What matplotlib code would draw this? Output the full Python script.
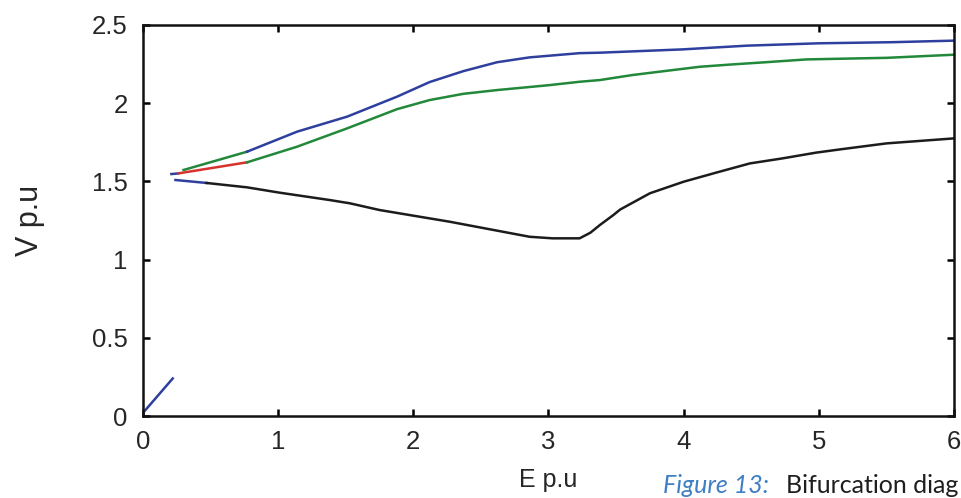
import numpy as np
import matplotlib
matplotlib.use("Agg")
import matplotlib.pyplot as plt

# upper branch (two-colour piece from the solver runs)
upper_E = [0.30, 0.77, 1.14, 1.51, 1.88, 2.12, 2.37, 2.62, 2.86, 3.23, 3.38, 3.99, 4.47, 5.00, 5.54, 6.00]
upper_V = [1.573, 1.690, 1.818, 1.914, 2.042, 2.135, 2.205, 2.262, 2.293, 2.320, 2.323, 2.344, 2.368, 2.383, 2.390, 2.400]

# middle branch
mid_E = [0.21, 0.26, 0.77, 1.14, 1.51, 1.88, 2.12, 2.37, 2.62, 3.00, 3.23, 3.38, 3.62, 3.92, 4.12, 4.36, 4.59, 4.91, 5.20, 5.50, 6.00]
mid_V = [1.547, 1.551, 1.622, 1.722, 1.839, 1.962, 2.020, 2.060, 2.084, 2.115, 2.137, 2.148, 2.180, 2.212, 2.233, 2.248, 2.261, 2.280, 2.285, 2.290, 2.310]

# lower branch
low_E = [0.24, 0.47, 0.77, 1.01, 1.38, 1.53, 1.75, 2.27, 2.86, 3.03, 3.23, 3.31, 3.38, 3.48, 3.53, 3.75, 4.00, 4.24, 4.49, 4.73, 4.98, 5.16, 5.50, 6.00]
low_V = [1.509, 1.490, 1.462, 1.428, 1.381, 1.360, 1.317, 1.242, 1.146, 1.136, 1.136, 1.172, 1.221, 1.285, 1.320, 1.424, 1.498, 1.556, 1.615, 1.647, 1.684, 1.705, 1.743, 1.775]

# short start near the origin
orig_E = [0.0, 0.22]
orig_V = [0.02, 0.24]

xticks = [0, 1, 2, 3, 4, 5, 6]
yticks = [0, 0.5, 1, 1.5, 2, 2.5]
ytick_labels = ["0", "0.5", "1", "1.5", "2", "2.5"]

blue = "#2f3f9e"
green = "#22883a"
red = "#d8322c"
black = "#1c1c1c"

plt.rcParams["font.family"] = ["Liberation Sans", "DejaVu Sans"]

fig = plt.figure(figsize=(9.62, 4.98), dpi=100)
ax = fig.add_axes([143 / 962, 82 / 498, 811 / 962, 391 / 498])

lw = 1.8
uE = np.array(upper_E); uV = np.array(upper_V)
ax.plot(uE[:2], uV[:2], color=green, lw=lw)
ax.plot(uE[1:], uV[1:], color=blue, lw=lw)

mE = np.array(mid_E); mV = np.array(mid_V)
ax.plot(mE[:2], mV[:2], color=blue, lw=lw)
ax.plot(mE[1:3], mV[1:3], color=red, lw=lw)
ax.plot(mE[2:], mV[2:], color=green, lw=lw)

lE = np.array(low_E); lV = np.array(low_V)
ax.plot(lE[:2], lV[:2], color=blue, lw=lw)
ax.plot(lE[1:], lV[1:], color=black, lw=lw)

ax.plot(orig_E, orig_V, color=blue, lw=lw)

ax.set_xlim(0, 6)
ax.set_ylim(0, 2.5)
ax.set_xticks(xticks)
ax.set_yticks(yticks)
ax.set_yticklabels(ytick_labels)

for s in ax.spines.values():
    s.set_linewidth(1.8)
    s.set_color("#111111")
ax.tick_params(direction="in", length=5, width=1.8, top=True, right=True,
               labelsize=18.5, labelcolor="#262626")
ax.tick_params(axis="x", pad=10)
ax.tick_params(axis="y", pad=11)

ax.set_xlabel("E p.u", fontsize=18, color="#262626", labelpad=10)
ax.set_ylabel("V p.u", fontsize=22, color="#262626", labelpad=34)

# caption along the bottom edge
fig.text(663 / 962, 5 / 498, "Figure 13:", fontsize=18, color="#3f7fc4",
         family=["Lato", "DejaVu Sans"], style="italic", va="baseline")
fig.text(958 / 962, 5 / 498, "Bifurcation diag", fontsize=18, color="#1e1e1e",
         family=["Lato", "DejaVu Sans"], ha="right", va="baseline")

fig.savefig("out.png", dpi=100)
